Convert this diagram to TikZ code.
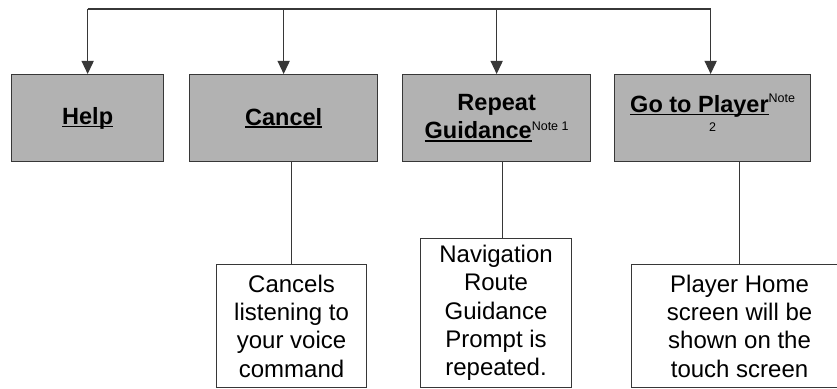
\documentclass[tikz,border=0pt]{standalone}
\usepackage{fontspec}
\setmainfont{Liberation Sans}
\usetikzlibrary{arrows.meta}
\definecolor{boxgray}{RGB}{178,178,178}
\definecolor{linegray}{RGB}{55,55,55}
\newcommand\myul[1]{\setbox0\hbox{#1}\rlap{\rule[-3pt]{\wd0}{1.7pt}}\box0}
\newcommand\notefont{\mdseries\fontsize{12.5}{14}\selectfont}
\begin{document}
\begin{tikzpicture}[x=1pt,y=1pt,
  titlebox/.style={draw=linegray, line width=1.3pt, fill=boxgray, minimum height=87pt,
    anchor=north west, inner sep=0pt, align=center,
    font=\fontsize{23.5}{28}\selectfont\bfseries},
  notebox/.style={draw=linegray, line width=1.1pt, fill=white, anchor=north west,
    inner sep=0pt, align=center, font=\fontsize{24}{28.3}\selectfont},
  conn/.style={draw=linegray, line width=1.3pt},
  arr/.style={conn, -{Triangle[width=12pt,length=13pt]}}
]
\clip (0,0) rectangle (837,388);
\fill[white] (0,0) rectangle (837,388);

% title boxes
\node[titlebox, minimum width=152pt] (help) at (11,314) {\myul{Help}};
\node[titlebox, minimum width=188pt] (cancel) at (189,314) {\myul{Cancel}};
\node[titlebox, minimum width=188pt] (rep) at (402,314)
  {Repeat\\\myul{Guidance}\raisebox{8pt}{\notefont Note 1}};
\node[titlebox, minimum width=196pt] (gp) at (614,314)
  {\myul{Go to Player}\raisebox{10pt}{\notefont Note}\\[-9pt]
   {\notefont 2\rule[-11pt]{0pt}{0pt}}};

% note boxes
\node[notebox, minimum width=150pt, minimum height=123pt] (nc) at (216,124)
  {Cancels\\listening to\\your voice\\command};
\node[notebox, minimum width=151pt, minimum height=149pt] (nr) at (420,150)
  {Navigation\\Route\\Guidance\\Prompt is\\repeated.};
\node[notebox, minimum width=216pt, minimum height=123pt] (np) at (631,124)
  {Player Home\\screen will be\\shown on the\\touch screen};

% top bus
\coordinate (busL) at (help.north |- 0,379);
\coordinate (busR) at ([xshift=-2pt]gp.north |- 0,379);
\draw[conn] (busL) -- (busR);
\draw[arr] (busL) -- (help.north);
\draw[arr] (cancel.north |- busL) -- (cancel.north);
\draw[arr] (rep.north |- busL) -- (rep.north);
\draw[arr] (busR) -- (busR |- gp.north);

% descending connectors
\draw[conn] (nc.north |- cancel.south) -- (nc.north);
\draw[conn] ([xshift=6pt]rep.south) -- ([xshift=6pt]rep.south |- nr.north);
\draw[conn] (np.north |- gp.south) -- (np.north);
\end{tikzpicture}
\end{document}
